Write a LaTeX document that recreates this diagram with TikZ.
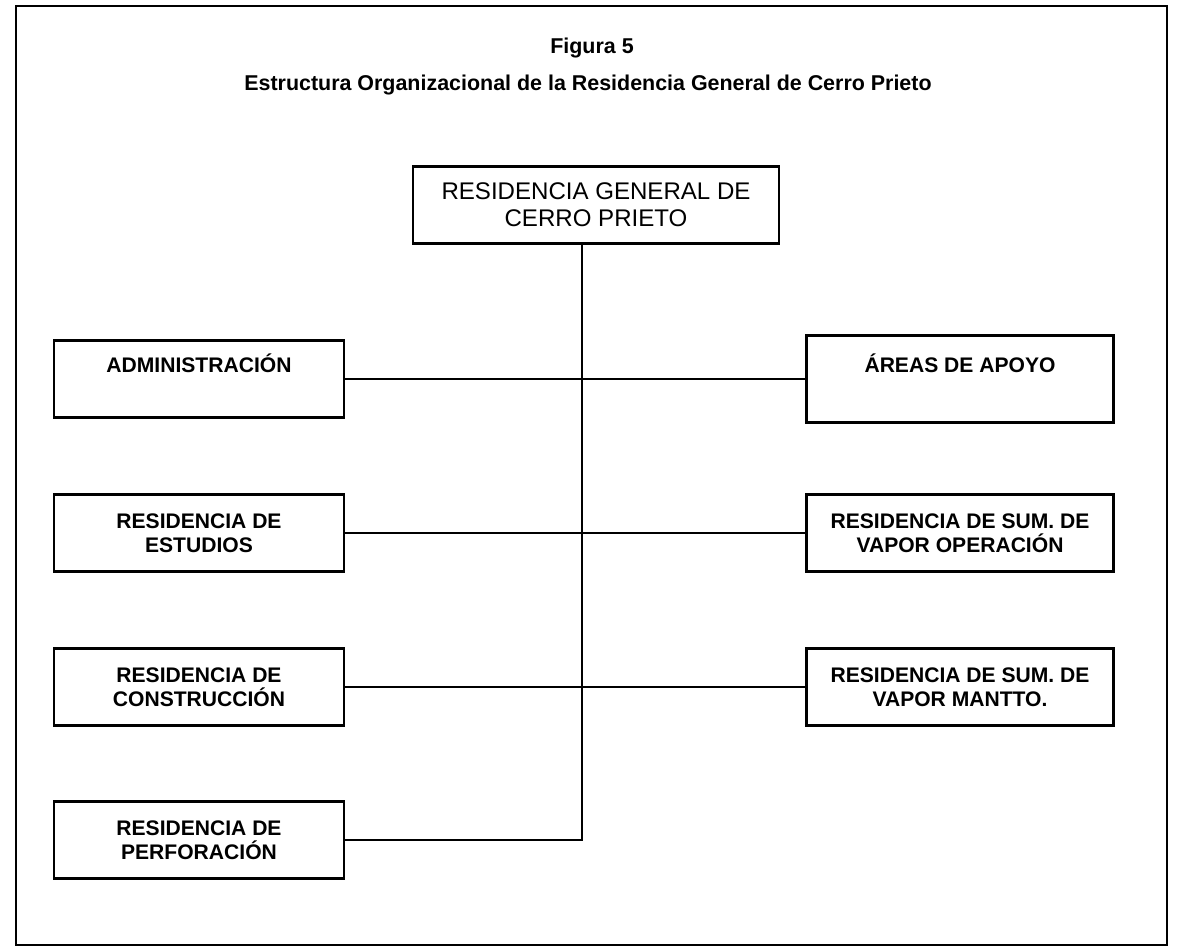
\documentclass[tikz,border=0pt]{standalone}
\usepackage{fontspec}
\setmainfont{Liberation Sans}
\usetikzlibrary{calc}
\usetikzlibrary{positioning}

\tikzset{
  unit/.style={draw, line width=1.2pt, align=center, minimum height=1.54cm,
    font=\fontsize{12}{13.7}\selectfont\bfseries},
  left unit/.style={unit, minimum width=5.8cm},
  right unit/.style={unit, minimum width=6.14cm},
  head unit/.style={unit, minimum width=7.32cm, font=\fontsize{13.7}{15.4}\selectfont},
  caption/.style={font=\fontsize{12.2}{14}\selectfont\bfseries}
}

\begin{document}
\begin{tikzpicture}[x=0.02cm, y=-0.02cm]
  \useasboundingbox (0,0) rectangle (1179,947);
  \draw [line width=1.2pt] (16,6) rectangle (1167,945);

  \node [caption] (fig)   at (592,48) {Figura 5};
  \node [caption] (title) at (588,85) {Estructura Organizacional de la Residencia General de Cerro Prieto};

  \node [head unit] (rgcp) at (596,205) {RESIDENCIA GENERAL DE\\CERRO PRIETO};

  \node [left unit] (admin)        at (199,379) {ADMINISTRACIÓN\\\strut};
  \node [left unit] (estudios)     at (199,533) {RESIDENCIA DE\\ESTUDIOS};
  \node [left unit] (construccion) at (199,687) {RESIDENCIA DE\\CONSTRUCCIÓN};
  \node [left unit] (perforacion)  at (199,840) {RESIDENCIA DE\\PERFORACIÓN};

  \node [right unit, minimum height=1.74cm] (apoyo) at (960,379) {ÁREAS DE APOYO\\\strut};
  \node [right unit] (operacion) at (960,533) {RESIDENCIA DE SUM. DE\\VAPOR OPERACIÓN};
  \node [right unit] (mantto)    at (960,687) {RESIDENCIA DE SUM. DE\\VAPOR MANTTO.};

  \coordinate (spine) at (582,0);

  \path [draw,line width=1pt]
    (rgcp.south -| spine) -- (perforacion.east -| spine) -- (perforacion.east)
    (admin)        edge (apoyo)
    (estudios)     edge (operacion)
    (construccion) edge (mantto);

\end{tikzpicture}
\end{document}
